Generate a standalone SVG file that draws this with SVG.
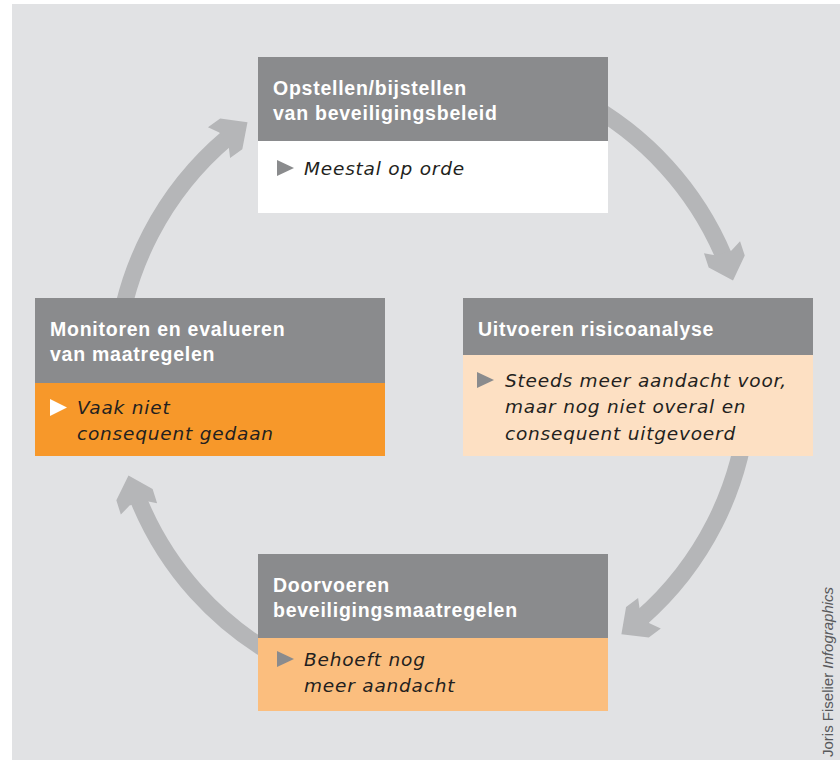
<svg xmlns="http://www.w3.org/2000/svg" width="840" height="760" viewBox="0 0 840 760">
<style>
.hd{fill:#8a8b8d}
.ht{font-family:"Liberation Sans",Arial,sans-serif;font-weight:bold;font-size:19.5px;letter-spacing:0.75px;fill:#ffffff}
.bt{font-family:"DejaVu Sans",sans-serif;font-style:italic;font-size:18.5px;letter-spacing:0.8px;fill:#231f20}
.arc{fill:none;stroke:#b5b6b8;stroke-width:17}
.head{fill:#b5b6b8}
.bul{fill:#8a8b8d}
</style>
<defs>
<polygon id="ah" points="0,0 -20,19 -35,19 -29,8 -29,-8 -35,-19 -20,-19"/>
</defs>
<rect x="0" y="0" width="840" height="760" fill="#ffffff"/>
<rect x="12" y="4" width="828" height="756" fill="#e1e2e4"/>
<g id="connectors">
<path class="arc" d="M580.8,100.1 A317,317 0 0 1 724.2,257.2"/>
<use href="#ah" class="head" transform="translate(733,280.5) rotate(71.7)"/>
<path class="arc" d="M747.8,407.6 A317,317 0 0 1 640.8,618.5"/>
<use href="#ah" class="head" transform="translate(621.4,634.2) rotate(143.3)"/>
<path class="arc" d="M283.2,659.9 A317,317 0 0 1 137.9,498.2"/>
<use href="#ah" class="head" transform="translate(128.5,475.5) rotate(252.6)"/>
<path class="arc" d="M116.2,352.4 A317,317 0 0 1 227.8,137.5"/>
<use href="#ah" class="head" transform="translate(247.5,122.2) rotate(324.4)"/>
</g>
<g id="node-beleid">
<rect class="hd" x="258" y="57" width="350" height="84"/>
<rect x="258" y="141" width="350" height="72" fill="#ffffff"/>
<text class="ht" x="273" y="95">Opstellen/bijstellen</text>
<text class="ht" x="273" y="120">van beveiligingsbeleid</text>
<polygon class="bul" points="277,160 294,168 277,176"/>
<text class="bt" x="304" y="175">Meestal op orde</text>
</g>
<g id="node-risico">
<rect class="hd" x="463" y="298" width="350" height="57"/>
<rect x="463" y="355" width="350" height="101" fill="#fde0c3"/>
<text class="ht" x="478" y="336">Uitvoeren risicoanalyse</text>
<polygon class="bul" points="477,372 494,380 477,388"/>
<text class="bt" x="505" y="387">Steeds meer aandacht voor,</text>
<text class="bt" x="505" y="413">maar nog niet overal en</text>
<text class="bt" x="505" y="440">consequent uitgevoerd</text>
</g>
<g id="node-doorvoeren">
<rect class="hd" x="258" y="554" width="350" height="84"/>
<rect x="258" y="638" width="350" height="73" fill="#fbbe7e"/>
<text class="ht" x="273" y="592">Doorvoeren</text>
<text class="ht" x="273" y="617">beveiligingsmaatregelen</text>
<polygon class="bul" points="277,651 294,659 277,667"/>
<text class="bt" x="304" y="666">Behoeft nog</text>
<text class="bt" x="304" y="692">meer aandacht</text>
</g>
<g id="node-monitoren">
<rect class="hd" x="35" y="298" width="350" height="85"/>
<rect x="35" y="383" width="350" height="73" fill="#f7982a"/>
<text class="ht" x="50" y="336">Monitoren en evalueren</text>
<text class="ht" x="50" y="361">van maatregelen</text>
<polygon points="50,399 67,407.5 50,416" fill="#ffffff"/>
<text class="bt" x="77" y="414">Vaak niet</text>
<text class="bt" x="77" y="440">consequent gedaan</text>
</g>
<text x="833" y="757" transform="rotate(-90 833 757)" font-family="Liberation Sans, Arial, sans-serif" font-size="15" fill="#58595b">Joris Fiselier <tspan font-style="italic">Infographics</tspan></text>
</svg>
